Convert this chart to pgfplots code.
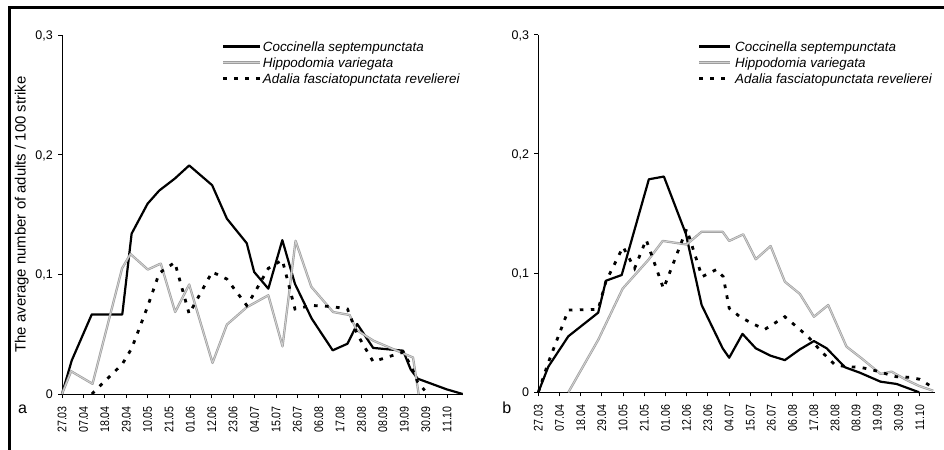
\documentclass[border=0pt]{standalone}
\usepackage{fontspec}
\setmainfont{Liberation Sans}
\newfontfamily\narrowsans{Liberation Sans}[FakeStretch=0.85]
\usepackage{pgfplots}
\pgfplotsset{compat=1.18}

% line styles of the three species
\tikzset{
  coccinella/.style={black, line width=2.2bp, line join=round},
  hippodamia/.style={draw=black!38, double=black!18, double distance=0.9bp,
    line width=0.7bp, line join=round},
  adalia/.style={black, line width=2.8bp, dash pattern=on 3.7bp off 7.3bp},
  legtext/.style={anchor=base west, inner sep=0pt,
    font=\fontsize{13.4bp}{16bp}\selectfont\itshape},
}

% Seasonal dynamics of three ladybird species; x = days after 27.03
\pgfplotsset{
  ladybird/.style={
    scale only axis,
    xmin=0, xmax=206, ymin=0, ymax=0.3,
    axis lines=left,
    axis line style={-, line width=0.8bp},
    tick style={black, line width=0.8bp},
    tick align=outside,
    major tick length=4bp,
    xtick={0,11,...,198},
    xticklabels={27.03,07.04,18.04,29.04,10.05,21.05,01.06,12.06,23.06,04.07,15.07,26.07,06.08,17.08,28.08,08.09,19.09,30.09,11.10},
    ytick={0,0.1,0.2,0.3},
    yticklabels={0,{0,1},{0,2},{0,3}},
    xticklabel style={rotate=90, anchor=east, inner sep=0pt, text depth=0pt,
      font=\narrowsans\fontsize{12.5bp}{14bp}\selectfont},
    yticklabel style={anchor=east, inner sep=0pt, text depth=0pt,
      font=\fontsize{12.5bp}{14bp}\selectfont},
    xticklabel shift=8bp,
    yticklabel shift=5bp,
    clip=false,
  },
}

\begin{document}
\begin{tikzpicture}

% outer frame (left and top)
\draw[line width=3bp, line join=miter] (9bp,0bp) -- (9bp,442.5bp) -- (944bp,442.5bp);

% ---------- panel a ----------
\begin{axis}[ladybird, at={(62bp,56bp)}, anchor=south west,
  width=400.6bp, height=359bp]
\addplot[coccinella] coordinates {
 (0,0) (5,0.028) (15.3,0.0665) (31,0.0665) (35.8,0.134) (44,0.159)
 (50,0.170) (58,0.180) (65.4,0.191) (77.2,0.1745) (84.8,0.1465) (95,0.126)
 (98.8,0.102) (106.1,0.088) (113.3,0.1286) (119.8,0.092) (128.4,0.063)
 (139.2,0.0365) (146.8,0.042) (151.8,0.0585) (160,0.0385) (175.4,0.0362)
 (179.3,0.0205) (182.9,0.0128) (197.8,0.0039) (206,0)};
\addplot[hippodamia] coordinates {
 (0,0) (4.7,0.019) (15.7,0.0085) (30.9,0.105) (35.2,0.117) (44.1,0.104)
 (50.8,0.109) (58.2,0.0685) (65.4,0.0915) (77.4,0.026) (84.8,0.058)
 (95,0.0725) (106.1,0.0825) (113.4,0.0398) (120.1,0.128) (128.2,0.0896)
 (139.4,0.0685) (147.9,0.066) (151.5,0.0534) (160.2,0.0445) (175.4,0.034)
 (180.5,0.0305) (183.4,0)};
\addplot[adalia] coordinates {
 (15.3,0) (31,0.025) (35.8,0.038) (44,0.073) (50,0.101) (58,0.110)
 (65.4,0.067) (77.2,0.102) (84.8,0.096) (95,0.074) (98.8,0.084)
 (106.1,0.105) (113.3,0.112) (119.8,0.071) (128.4,0.074) (139.2,0.073)
 (146.8,0.071) (151.8,0.050) (160,0.027) (175.4,0.035) (179.3,0.024)
 (182.9,0.010) (186.5,0.003)};
\end{axis}

% ---------- panel b ----------
\begin{axis}[ladybird, at={(538.3bp,57.7bp)}, anchor=south west,
  width=396.8bp, height=357.6bp]
\addplot[coccinella] coordinates {
 (0,0) (5.2,0.0215) (15.6,0.047) (31.1,0.0668) (35.1,0.0936) (43.3,0.0984)
 (57.4,0.1787) (65.2,0.181) (76.6,0.133) (84.8,0.0732) (95.7,0.0369)
 (99.1,0.029) (106,0.049) (112.9,0.0369) (120.6,0.0307) (128,0.027)
 (135.8,0.036) (143.1,0.043) (149.7,0.0369) (159.2,0.021) (167,0.0164)
 (177.7,0.0089) (186,0.007) (197.7,0)};
\addplot[hippodamia] coordinates {
 (15.6,0) (31.1,0.044) (43.8,0.087) (57.1,0.111) (64.6,0.127) (77,0.124)
 (84.8,0.1347) (95.7,0.1347) (99.1,0.127) (106.4,0.1325) (112.9,0.1116)
 (120.6,0.1227) (128,0.0928) (135.8,0.0825) (143.1,0.0634) (150.5,0.0732)
 (160,0.0383) (167.8,0.0285) (177.7,0.0154) (183.4,0.0173) (191.2,0.0103)
 (197.7,0.0053) (205,0.0013)};
\addplot[adalia] coordinates {
 (0,0) (5.2,0.025) (15.6,0.069) (31.1,0.0696) (35.1,0.093) (44,0.122)
 (50,0.104) (56,0.128) (65,0.087) (77,0.137) (85,0.097) (92.5,0.103)
 (96,0.097) (99.1,0.0705) (104.7,0.0634) (110.8,0.0579) (117.6,0.0528)
 (128,0.0634) (134.1,0.055) (140.1,0.0466) (146.2,0.0355) (154,0.023)
 (160,0.0215) (167,0.021) (173.8,0.0187) (180.8,0.0154) (186,0.013)
 (192.9,0.0126) (198.1,0.0109) (204.2,0.0047)};
\end{axis}

% legends of both panels: sample start, sample length, text start
\foreach \lx/\len/\tx in {223/37/262.7, 699.3/31/735} {
  \draw[coccinella] (\lx bp,403.5bp) -- ++(\len bp,0bp);
  \draw[hippodamia] (\lx bp,387.5bp) -- ++(\len bp,0bp);
  \draw[adalia]     (\lx bp,371.5bp) -- ++(\len bp,0bp);
  \node[legtext] at (\tx bp,398.5bp) {Coccinella septempunctata};
  \node[legtext] at (\tx bp,382.5bp) {Hippodomia variegata};
  \node[legtext] at (\tx bp,366.5bp) {Adalia fasciatopunctata revelierei};
}

% y-axis title and panel letters
\node[rotate=90, anchor=base, font=\fontsize{14.9bp}{17bp}\selectfont]
  at (25.5bp,235.5bp) {The average number of adults / 100 strike};
\node[anchor=base, font=\fontsize{16bp}{18bp}\selectfont] at (22.5bp,37bp) {a};
\node[anchor=base, font=\fontsize{16bp}{18bp}\selectfont] at (506.7bp,36.7bp) {b};

% picture extent
\pgfresetboundingbox
\path[use as bounding box] (0bp,0bp) rectangle (944bp,450bp);
\end{tikzpicture}
\end{document}
